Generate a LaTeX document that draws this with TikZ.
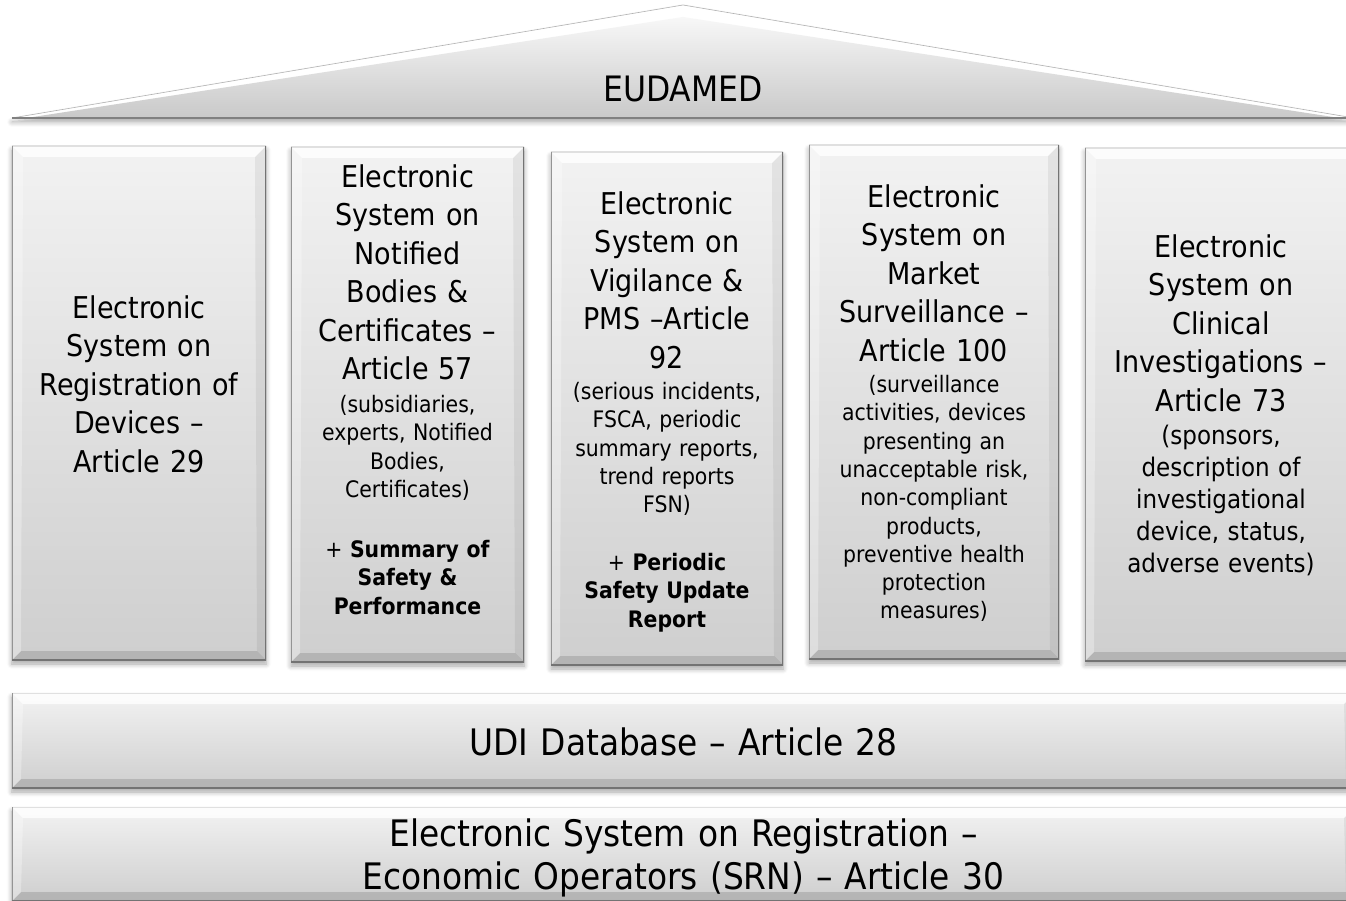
\documentclass[tikz,border=0pt]{standalone}
\usepackage{fontspec}
\setmainfont{DejaVu Sans Condensed}
\usetikzlibrary{shadows.blur}
\newcommand\slabbevel{%
  \path (path picture bounding box.north west) coordinate (bnw)
        (path picture bounding box.north east) coordinate (bne)
        (path picture bounding box.south west) coordinate (bsw)
        (path picture bounding box.south east) coordinate (bse);
  \fill[white,opacity=.8] (bnw) -- (bne) -- ([shift={(-11pt,-11pt)}]bne) -- ([shift={(11pt,-11pt)}]bnw) -- cycle;
  \fill[black,opacity=.13] (bsw) -- (bse) -- ([shift={(-9pt,9pt)}]bse) -- ([shift={(9pt,9pt)}]bsw) -- cycle;
  \fill[black,opacity=.06] (bne) -- ([shift={(-11pt,-11pt)}]bne) -- ([shift={(-9pt,9pt)}]bse) -- (bse) -- cycle;
  \fill[white,opacity=.3] (bnw) -- ([shift={(11pt,-11pt)}]bnw) -- ([shift={(9pt,9pt)}]bsw) -- (bsw) -- cycle;
  \draw[black!12,line width=1.5pt] (bnw) -- (bne);
  \draw[black!42,line width=1.5pt] (bnw) -- (bsw);
  \draw[black!55,line width=1.5pt] (bne) -- (bse) -- (bsw);
}
\tikzset{
  softshadow/.style={blur shadow={shadow xshift=0pt,shadow yshift=-4pt,shadow blur radius=5pt,shadow blur steps=6,shadow opacity=35}},
  slab/.style={top color=black!5,bottom color=black!19,softshadow,path picture={\slabbevel}},
  lbl/.style={anchor=base,align=center,text width=300pt,inner sep=0pt},
  headtxt/.style={lbl,font=\fontsize{30}{38.4}\selectfont},
  infotxt/.style={lbl,font=\fontsize{22.7}{28.3}\selectfont},
  bartxt/.style={lbl,text width=900pt,font=\fontsize{36.5}{43}\selectfont},
}
\begin{document}
\begin{tikzpicture}[x=1pt,y=-1pt]
  \useasboundingbox (0,0) rectangle (1346,901);
  \clip (0,0) rectangle (1346,901);
  % roof
  \coordinate (apex) at (683,5);
  \coordinate (roofl) at (12,118);
  \coordinate (roofr) at (1354,118);
  \fill[white,softshadow] (roofl) -- (apex) -- (roofr) -- cycle;
  \shade[top color=black!3,bottom color=black!21] (33,117) -- (683,17) -- (1333,117) -- cycle;
  \draw[black!30,line width=.6pt] (roofl) -- (apex) -- (roofr);
  \draw[black!50,line width=1.2pt] (roofl) -- (roofr);
  \node[lbl,font=\fontsize{35}{42}\selectfont] (eudamed) at (683,102) {EUDAMED};
  % pillars
  \node[slab,minimum width=254,minimum height=514] (regdev) at (139,403) {};
  \node[slab,minimum width=233,minimum height=515] (notbod) at (407.5,404.5) {};
  \node[slab,minimum width=232,minimum height=513] (vigil) at (667,408.5) {};
  \node[slab,minimum width=250,minimum height=514] (market) at (934,402) {};
  \node[slab,minimum width=272,minimum height=513] (clinic) at (1221,404.5) {};
  % bars
  \node[slab,minimum width=1343,minimum height=95] (udi) at (683.5,740.5) {};
  \node[slab,minimum width=1343,minimum height=94] (srn) at (683.5,854) {};
  % texts
  \node[headtxt] (regdevhead) at (139,318.5) {Electronic\\System on\\Registration of\\Devices –\\Article 29};
  \node[headtxt] (notbodhead) at (407.5,187.5) {Electronic\\System on\\Notified\\Bodies \&\\Certificates –\\Article 57};
  \node[infotxt] (notbodinfo) at (407.5,412.5) {(subsidiaries,\\experts, Notified\\Bodies,\\Certificates)};
  \node[infotxt] (notbodplus) at (407.5,557.5) {+ \textbf{Summary of}\\\textbf{Safety \&}\\\textbf{Performance}};
  \node[headtxt] (vigilhead) at (667,214.5) {Electronic\\System on\\Vigilance \&\\PMS –Article\\92};
  \node[infotxt] (vigilinfo) at (667,399.5) {(serious incidents,\\FSCA, periodic\\summary reports,\\trend reports\\FSN)};
  \node[infotxt] (vigilplus) at (667,570.5) {+ \textbf{Periodic}\\\textbf{Safety Update}\\\textbf{Report}};
  \node[headtxt] (markethead) at (934,207.5) {Electronic\\System on\\Market\\Surveillance –\\Article 100};
  \node[infotxt] (marketinfo) at (934,392.5) {(surveillance\\activities, devices\\presenting an\\unacceptable risk,\\non-compliant\\products,\\preventive health\\protection\\measures)};
  \node[headtxt] (clinichead) at (1221,257.5) {Electronic\\System on\\Clinical\\Investigations –\\Article 73};
  \node[infotxt,font=\fontsize{25.6}{32}\selectfont] (clinicinfo) at (1221,444.5) {(sponsors,\\description of\\investigational\\device, status,\\adverse events)};
  \node[bartxt] (uditxt) at (683.5,755) {UDI Database – Article 28};
  \node[bartxt] (srntxt) at (683.5,846) {Electronic System on Registration –\\Economic Operators (SRN) – Article 30};
\end{tikzpicture}
\end{document}
